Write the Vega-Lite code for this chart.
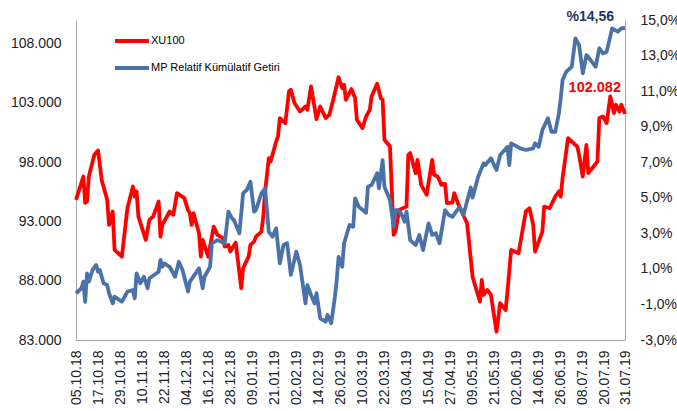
{
  "$schema": "https://vega.github.io/schema/vega-lite/v6.json",
  "autosize": {"type": "none"},
  "padding": {"left": 76, "top": 20, "right": 52, "bottom": 71},
  "width": 549,
  "height": 320,
  "background": "white",
  "config": {
    "font": "Liberation Sans",
    "view": {"stroke": null},
    "axis": {"domainColor": "#A6A6A6", "labelColor": "#222222", "grid": false, "ticks": false, "tickSize": 0, "labelFontSize": 14, "labelFont": "Liberation Sans", "title": null}
  },
  "datasets": {
    "xu": [
      {"date": "2018-10-05", "value": 94820}, {"date": "2018-10-09", "value": 96790}, {"date": "2018-10-10", "value": 94570}, {"date": "2018-10-11", "value": 94680}, {"date": "2018-10-12", "value": 96790}, {"date": "2018-10-15", "value": 98625}, {"date": "2018-10-17", "value": 98990}, {"date": "2018-10-19", "value": 96510}, {"date": "2018-10-22", "value": 94820}, {"date": "2018-10-23", "value": 92710}, {"date": "2018-10-25", "value": 93840}, {"date": "2018-10-26", "value": 90600}, {"date": "2018-10-30", "value": 90035}, {"date": "2018-11-02", "value": 94120}, {"date": "2018-11-05", "value": 95950}, {"date": "2018-11-06", "value": 95100}, {"date": "2018-11-07", "value": 95525}, {"date": "2018-11-08", "value": 93410}, {"date": "2018-11-12", "value": 91450}, {"date": "2018-11-14", "value": 93135}, {"date": "2018-11-16", "value": 93410}, {"date": "2018-11-19", "value": 94680}, {"date": "2018-11-20", "value": 91725}, {"date": "2018-11-21", "value": 92710}, {"date": "2018-11-25", "value": 93840}, {"date": "2018-11-27", "value": 93560}, {"date": "2018-11-29", "value": 95390}, {"date": "2018-12-03", "value": 94970}, {"date": "2018-12-05", "value": 93980}, {"date": "2018-12-06", "value": 93700}, {"date": "2018-12-07", "value": 92710}, {"date": "2018-12-08", "value": 93700}, {"date": "2018-12-11", "value": 92010}, {"date": "2018-12-12", "value": 90035}, {"date": "2018-12-13", "value": 91450}, {"date": "2018-12-16", "value": 90035}, {"date": "2018-12-19", "value": 92570}, {"date": "2018-12-21", "value": 91870}, {"date": "2018-12-24", "value": 91590}, {"date": "2018-12-25", "value": 90880}, {"date": "2018-12-27", "value": 91020}, {"date": "2018-12-28", "value": 90460}, {"date": "2018-12-31", "value": 91220}, {"date": "2019-01-03", "value": 87370}, {"date": "2019-01-04", "value": 89055}, {"date": "2019-01-07", "value": 90035}, {"date": "2019-01-08", "value": 91020}, {"date": "2019-01-10", "value": 91300}, {"date": "2019-01-11", "value": 91725}, {"date": "2019-01-14", "value": 92150}, {"date": "2019-01-15", "value": 93410}, {"date": "2019-01-16", "value": 95525}, {"date": "2019-01-18", "value": 98345}, {"date": "2019-01-19", "value": 98060}, {"date": "2019-01-22", "value": 99750}, {"date": "2019-01-23", "value": 100170}, {"date": "2019-01-24", "value": 101725}, {"date": "2019-01-27", "value": 101300}, {"date": "2019-01-29", "value": 103970}, {"date": "2019-01-30", "value": 104115}, {"date": "2019-02-01", "value": 102990}, {"date": "2019-02-04", "value": 102280}, {"date": "2019-02-07", "value": 102700}, {"date": "2019-02-08", "value": 102425}, {"date": "2019-02-10", "value": 104395}, {"date": "2019-02-13", "value": 101640}, {"date": "2019-02-15", "value": 102700}, {"date": "2019-02-18", "value": 101725}, {"date": "2019-02-20", "value": 102005}, {"date": "2019-02-22", "value": 103210}, {"date": "2019-02-25", "value": 105170}, {"date": "2019-02-27", "value": 104260}, {"date": "2019-02-28", "value": 104540}, {"date": "2019-03-01", "value": 103270}, {"date": "2019-03-04", "value": 104175}, {"date": "2019-03-06", "value": 103415}, {"date": "2019-03-07", "value": 101580}, {"date": "2019-03-10", "value": 100880}, {"date": "2019-03-12", "value": 101860}, {"date": "2019-03-14", "value": 102425}, {"date": "2019-03-15", "value": 103550}, {"date": "2019-03-18", "value": 104620}, {"date": "2019-03-20", "value": 103415}, {"date": "2019-03-21", "value": 103270}, {"date": "2019-03-22", "value": 99890}, {"date": "2019-03-25", "value": 99325}, {"date": "2019-03-27", "value": 91870}, {"date": "2019-03-28", "value": 92150}, {"date": "2019-03-30", "value": 93980}, {"date": "2019-04-03", "value": 94260}, {"date": "2019-04-04", "value": 98625}, {"date": "2019-04-05", "value": 98770}, {"date": "2019-04-08", "value": 97080}, {"date": "2019-04-09", "value": 98200}, {"date": "2019-04-11", "value": 96090}, {"date": "2019-04-14", "value": 95245}, {"date": "2019-04-17", "value": 98200}, {"date": "2019-04-18", "value": 96935}, {"date": "2019-04-20", "value": 96790}, {"date": "2019-04-22", "value": 96090}, {"date": "2019-04-24", "value": 96175}, {"date": "2019-04-25", "value": 94545}, {"date": "2019-04-28", "value": 94595}, {"date": "2019-04-29", "value": 95390}, {"date": "2019-05-01", "value": 94545}, {"date": "2019-05-03", "value": 93840}, {"date": "2019-05-06", "value": 92855}, {"date": "2019-05-09", "value": 88320}, {"date": "2019-05-13", "value": 86235}, {"date": "2019-05-14", "value": 88070}, {"date": "2019-05-15", "value": 86800}, {"date": "2019-05-17", "value": 87225}, {"date": "2019-05-19", "value": 86800}, {"date": "2019-05-22", "value": 83700}, {"date": "2019-05-24", "value": 86100}, {"date": "2019-05-27", "value": 85535}, {"date": "2019-05-28", "value": 87080}, {"date": "2019-05-30", "value": 90600}, {"date": "2019-06-03", "value": 90320}, {"date": "2019-06-07", "value": 93840}, {"date": "2019-06-09", "value": 94120}, {"date": "2019-06-11", "value": 92710}, {"date": "2019-06-12", "value": 90460}, {"date": "2019-06-16", "value": 92150}, {"date": "2019-06-17", "value": 94260}, {"date": "2019-06-20", "value": 94120}, {"date": "2019-06-23", "value": 95100}, {"date": "2019-06-25", "value": 95525}, {"date": "2019-06-26", "value": 95100}, {"date": "2019-06-27", "value": 96655}, {"date": "2019-06-30", "value": 100035}, {"date": "2019-07-02", "value": 99750}, {"date": "2019-07-03", "value": 99615}, {"date": "2019-07-05", "value": 99325}, {"date": "2019-07-06", "value": 98625}, {"date": "2019-07-08", "value": 96790}, {"date": "2019-07-10", "value": 99470}, {"date": "2019-07-11", "value": 97080}, {"date": "2019-07-16", "value": 98060}, {"date": "2019-07-17", "value": 101725}, {"date": "2019-07-19", "value": 101860}, {"date": "2019-07-21", "value": 101300}, {"date": "2019-07-23", "value": 103550}, {"date": "2019-07-25", "value": 102150}, {"date": "2019-07-26", "value": 102850}, {"date": "2019-07-28", "value": 102280}, {"date": "2019-07-29", "value": 102850}, {"date": "2019-07-31", "value": 102082}
    ],
    "mp": [
      {"date": "2018-10-05", "value": -0.37}, {"date": "2018-10-08", "value": -0.09}, {"date": "2018-10-09", "value": 0.28}, {"date": "2018-10-10", "value": -0.85}, {"date": "2018-10-11", "value": 0.75}, {"date": "2018-10-12", "value": 0.28}, {"date": "2018-10-14", "value": 0.94}, {"date": "2018-10-16", "value": 1.22}, {"date": "2018-10-17", "value": 0.84}, {"date": "2018-10-18", "value": 0.94}, {"date": "2018-10-20", "value": 0.19}, {"date": "2018-10-22", "value": 0.09}, {"date": "2018-10-23", "value": -0.37}, {"date": "2018-10-25", "value": -0.94}, {"date": "2018-10-26", "value": -0.56}, {"date": "2018-10-30", "value": -0.85}, {"date": "2018-11-02", "value": -0.28}, {"date": "2018-11-05", "value": -0.19}, {"date": "2018-11-06", "value": -0.65}, {"date": "2018-11-07", "value": 0.75}, {"date": "2018-11-09", "value": 0.19}, {"date": "2018-11-11", "value": 0.56}, {"date": "2018-11-13", "value": -0.09}, {"date": "2018-11-14", "value": 0.47}, {"date": "2018-11-19", "value": 0.84}, {"date": "2018-11-20", "value": 1.5}, {"date": "2018-11-21", "value": 1.12}, {"date": "2018-11-22", "value": 1.31}, {"date": "2018-11-25", "value": 1.12}, {"date": "2018-11-28", "value": 0.56}, {"date": "2018-11-30", "value": 1.4}, {"date": "2018-12-02", "value": 0.94}, {"date": "2018-12-05", "value": -0.28}, {"date": "2018-12-06", "value": 0.28}, {"date": "2018-12-11", "value": 1.03}, {"date": "2018-12-13", "value": -0.09}, {"date": "2018-12-14", "value": 0.56}, {"date": "2018-12-17", "value": 1.12}, {"date": "2018-12-18", "value": 2.44}, {"date": "2018-12-21", "value": 2.62}, {"date": "2018-12-25", "value": 2.44}, {"date": "2018-12-27", "value": 4.22}, {"date": "2018-12-29", "value": 3.84}, {"date": "2018-12-30", "value": 3.75}, {"date": "2019-01-02", "value": 3.0}, {"date": "2019-01-04", "value": 5.25}, {"date": "2019-01-06", "value": 5.44}, {"date": "2019-01-08", "value": 5.9}, {"date": "2019-01-10", "value": 4.22}, {"date": "2019-01-11", "value": 4.31}, {"date": "2019-01-14", "value": 5.25}, {"date": "2019-01-16", "value": 5.53}, {"date": "2019-01-18", "value": 3.09}, {"date": "2019-01-20", "value": 2.81}, {"date": "2019-01-22", "value": 3.28}, {"date": "2019-01-24", "value": 1.31}, {"date": "2019-01-26", "value": 2.34}, {"date": "2019-01-28", "value": 2.44}, {"date": "2019-01-30", "value": 0.66}, {"date": "2019-02-02", "value": 1.97}, {"date": "2019-02-04", "value": 1.22}, {"date": "2019-02-07", "value": -0.94}, {"date": "2019-02-08", "value": 0.09}, {"date": "2019-02-10", "value": -0.47}, {"date": "2019-02-12", "value": -0.94}, {"date": "2019-02-13", "value": -0.37}, {"date": "2019-02-15", "value": -1.78}, {"date": "2019-02-18", "value": -1.97}, {"date": "2019-02-19", "value": -1.59}, {"date": "2019-02-21", "value": -2.06}, {"date": "2019-02-23", "value": -0.58}, {"date": "2019-02-24", "value": 0.37}, {"date": "2019-02-25", "value": 1.68}, {"date": "2019-02-27", "value": 1.12}, {"date": "2019-02-28", "value": 2.44}, {"date": "2019-03-03", "value": 3.47}, {"date": "2019-03-05", "value": 3.37}, {"date": "2019-03-06", "value": 4.97}, {"date": "2019-03-08", "value": 4.5}, {"date": "2019-03-12", "value": 4.16}, {"date": "2019-03-13", "value": 5.62}, {"date": "2019-03-15", "value": 5.72}, {"date": "2019-03-18", "value": 6.38}, {"date": "2019-03-19", "value": 5.53}, {"date": "2019-03-21", "value": 7.12}, {"date": "2019-03-22", "value": 5.62}, {"date": "2019-03-25", "value": 4.87}, {"date": "2019-03-27", "value": 3.37}, {"date": "2019-03-28", "value": 4.31}, {"date": "2019-03-29", "value": 4.31}, {"date": "2019-03-31", "value": 4.13}, {"date": "2019-04-02", "value": 3.65}, {"date": "2019-04-03", "value": 4.22}, {"date": "2019-04-05", "value": 2.62}, {"date": "2019-04-08", "value": 2.34}, {"date": "2019-04-10", "value": 2.91}, {"date": "2019-04-12", "value": 2.06}, {"date": "2019-04-15", "value": 3.56}, {"date": "2019-04-17", "value": 2.91}, {"date": "2019-04-19", "value": 3.0}, {"date": "2019-04-21", "value": 2.44}, {"date": "2019-04-24", "value": 4.31}, {"date": "2019-04-26", "value": 4.03}, {"date": "2019-04-28", "value": 3.93}, {"date": "2019-05-02", "value": 4.5}, {"date": "2019-05-04", "value": 4.03}, {"date": "2019-05-08", "value": 5.58}, {"date": "2019-05-09", "value": 5.01}, {"date": "2019-05-12", "value": 6.17}, {"date": "2019-05-15", "value": 6.94}, {"date": "2019-05-16", "value": 6.84}, {"date": "2019-05-19", "value": 7.22}, {"date": "2019-05-22", "value": 6.56}, {"date": "2019-05-24", "value": 7.4}, {"date": "2019-05-28", "value": 7.87}, {"date": "2019-05-29", "value": 6.84}, {"date": "2019-05-30", "value": 8.06}, {"date": "2019-06-04", "value": 7.78}, {"date": "2019-06-07", "value": 7.69}, {"date": "2019-06-11", "value": 7.78}, {"date": "2019-06-12", "value": 8.06}, {"date": "2019-06-14", "value": 7.87}, {"date": "2019-06-16", "value": 8.81}, {"date": "2019-06-19", "value": 9.47}, {"date": "2019-06-21", "value": 8.71}, {"date": "2019-06-23", "value": 8.71}, {"date": "2019-06-25", "value": 9.75}, {"date": "2019-06-26", "value": 10.59}, {"date": "2019-06-27", "value": 11.62}, {"date": "2019-06-29", "value": 12.09}, {"date": "2019-07-01", "value": 12.28}, {"date": "2019-07-02", "value": 12.37}, {"date": "2019-07-04", "value": 13.97}, {"date": "2019-07-06", "value": 13.59}, {"date": "2019-07-08", "value": 12.0}, {"date": "2019-07-10", "value": 13.03}, {"date": "2019-07-11", "value": 12.93}, {"date": "2019-07-15", "value": 12.37}, {"date": "2019-07-17", "value": 13.41}, {"date": "2019-07-19", "value": 13.12}, {"date": "2019-07-21", "value": 13.21}, {"date": "2019-07-24", "value": 14.53}, {"date": "2019-07-27", "value": 14.34}, {"date": "2019-07-29", "value": 14.53}, {"date": "2019-07-31", "value": 14.56}
    ],
    "xulabel": [{"date": "2019-07-31", "value": 102082, "label": "102.082"}],
    "mplabel": [{"date": "2019-07-31", "value": 14.56, "label": "%14,56"}]
  },
  "encoding": {
    "x": {
      "field": "date",
      "type": "temporal",
      "scale": {"type": "utc", "domain": [{"year": 2018, "month": 10, "date": 5, "utc": true}, {"year": 2019, "month": 7, "date": 31, "utc": true}]},
      "axis": {
        "labelExpr": "utcFormat(datum.value, '%d.%m.%y')",
        "labelAngle": 270,
        "labelPadding": 10,
        "labelOverlap": false,
        "labelFlush": false,
        "values": [
          {"year": 2018, "month": 10, "date": 5, "utc": true}, {"year": 2018, "month": 10, "date": 17, "utc": true}, {"year": 2018, "month": 10, "date": 29, "utc": true}, {"year": 2018, "month": 11, "date": 10, "utc": true}, {"year": 2018, "month": 11, "date": 22, "utc": true}, {"year": 2018, "month": 12, "date": 4, "utc": true}, {"year": 2018, "month": 12, "date": 16, "utc": true}, {"year": 2018, "month": 12, "date": 28, "utc": true}, {"year": 2019, "month": 1, "date": 9, "utc": true}, {"year": 2019, "month": 1, "date": 21, "utc": true}, {"year": 2019, "month": 2, "date": 2, "utc": true}, {"year": 2019, "month": 2, "date": 14, "utc": true}, {"year": 2019, "month": 2, "date": 26, "utc": true}, {"year": 2019, "month": 3, "date": 10, "utc": true}, {"year": 2019, "month": 3, "date": 22, "utc": true}, {"year": 2019, "month": 4, "date": 3, "utc": true}, {"year": 2019, "month": 4, "date": 15, "utc": true}, {"year": 2019, "month": 4, "date": 27, "utc": true}, {"year": 2019, "month": 5, "date": 9, "utc": true}, {"year": 2019, "month": 5, "date": 21, "utc": true}, {"year": 2019, "month": 6, "date": 2, "utc": true}, {"year": 2019, "month": 6, "date": 14, "utc": true}, {"year": 2019, "month": 6, "date": 26, "utc": true}, {"year": 2019, "month": 7, "date": 8, "utc": true}, {"year": 2019, "month": 7, "date": 20, "utc": true}, {"year": 2019, "month": 7, "date": 31, "utc": true}
        ]
      }
    }
  },
  "layer": [
    {
      "encoding": {
        "y": {
          "field": "value",
          "type": "quantitative",
          "scale": {"domain": [83000, 110000], "nice": false, "zero": false},
          "axis": {
            "orient": "left",
            "values": [83000, 88000, 93000, 98000, 103000, 108000],
            "labelExpr": "replace(format(datum.value, ',.0f'), ',', '.')",
            "labelPadding": 15
          }
        }
      },
      "layer": [
        {
          "data": {"name": "xu"},
          "mark": {"type": "line", "strokeWidth": 3.8, "strokeJoin": "round"},
          "encoding": {
            "color": {
              "datum": "XU100",
              "type": "nominal",
              "scale": {"domain": ["XU100", "MP Relatif Kümülatif Getiri"], "range": ["#FF0000", "#4A72A8"]},
              "legend": {
                "orient": "none",
                "legendX": 37,
                "legendY": 2,
                "title": null,
                "symbolType": "stroke",
                "symbolStrokeWidth": 4,
                "symbolSize": 1150,
                "labelFontSize": 11,
                "labelFont": "Liberation Sans",
                "labelColor": "#000000",
                "labelOffset": 0,
                "rowPadding": -6
              }
            }
          }
        },
        {
          "data": {"name": "xulabel"},
          "mark": {"type": "text", "align": "right", "baseline": "middle", "dx": -4, "dy": -26, "fontSize": 14.5, "fontWeight": "bold", "font": "Liberation Sans", "color": "#FF0000"},
          "encoding": {"text": {"field": "label"}}
        }
      ]
    },
    {
      "encoding": {
        "y": {
          "field": "value",
          "type": "quantitative",
          "scale": {"domain": [-3, 15], "nice": false, "zero": false},
          "axis": {
            "orient": "right",
            "values": [-3, -1, 1, 3, 5, 7, 9, 11, 13, 15],
            "labelExpr": "replace(replace(format(datum.value, '.1f'), '.', ','), '−', '-') + '%'",
            "labelPadding": 15
          }
        }
      },
      "layer": [
        {
          "data": {"name": "mp"},
          "mark": {"type": "line", "strokeWidth": 3.8, "strokeJoin": "round"},
          "encoding": {"color": {"datum": "MP Relatif Kümülatif Getiri", "type": "nominal"}}
        },
        {
          "data": {"name": "mplabel"},
          "mark": {"type": "text", "align": "right", "baseline": "middle", "dx": -11, "dy": -11, "fontSize": 14, "fontWeight": "bold", "font": "Liberation Sans", "color": "#1F3864"},
          "encoding": {"text": {"field": "label"}}
        }
      ]
    }
  ],
  "resolve": {"scale": {"y": "independent"}, "axis": {"y": "independent"}}
}
